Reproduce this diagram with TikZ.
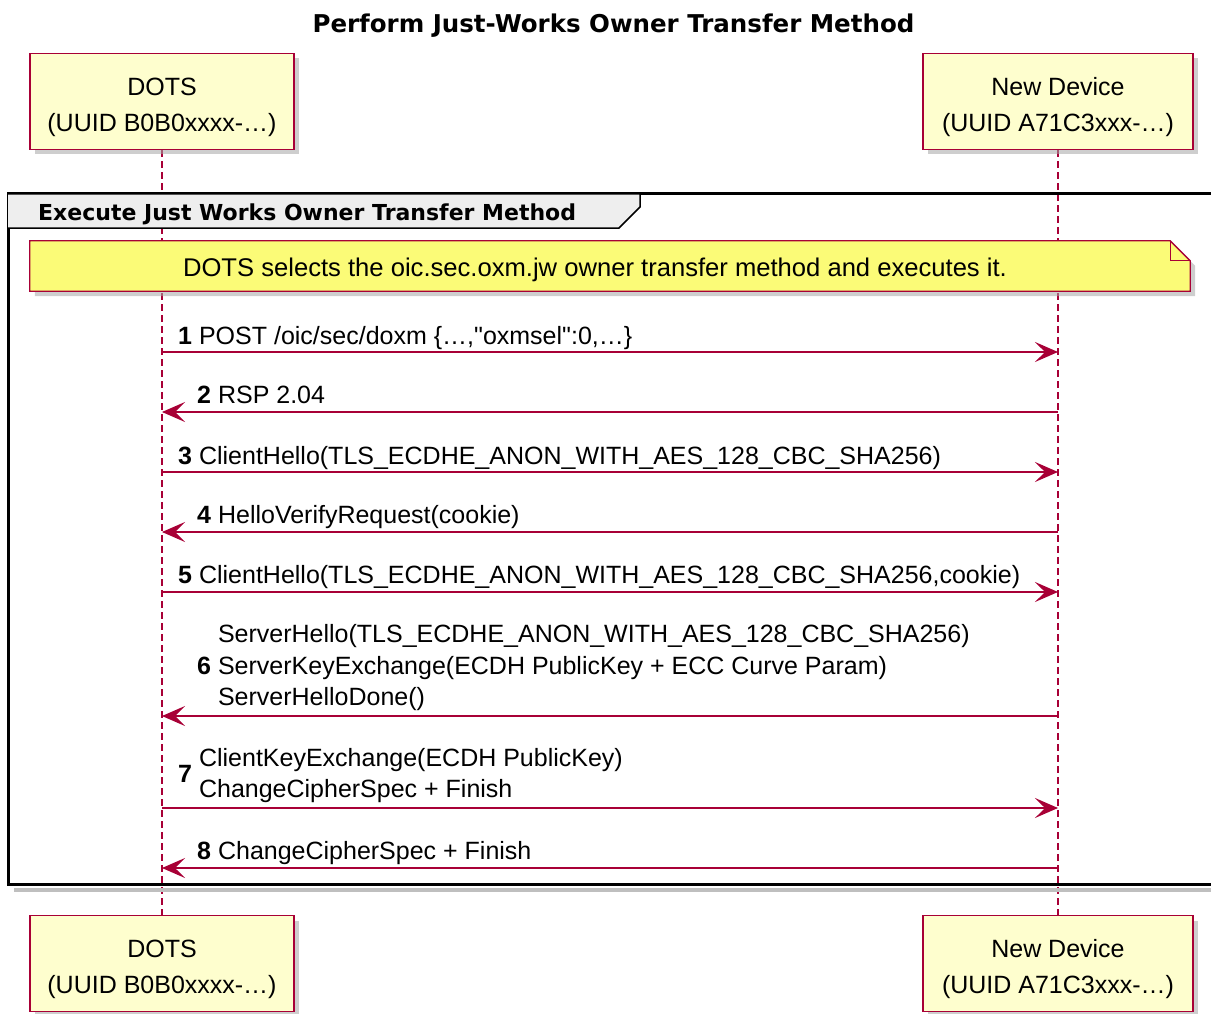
\documentclass[tikz,border=0pt]{standalone}
\usepackage{fontspec}
\setmainfont{Liberation Sans}[Ligatures=TeXOff]
\newfontfamily\djv{DejaVu Sans}
\usetikzlibrary{arrows.meta,backgrounds,shadows}
\definecolor{crim}{HTML}{A80036}
\definecolor{partfill}{HTML}{FEFECE}
\definecolor{notefill}{HTML}{FBFB77}
\definecolor{tabfill}{HTML}{EEEEEE}
\newcommand{\ptext}[2]{\raisebox{-5pt}[\height][\depth]{\begin{tabular}{@{}c@{}}#1\\#2\end{tabular}}}
\begin{document}
\begin{tikzpicture}[x=1pt,y=-1pt,
  part/.style={draw=crim, line width=1.5pt, fill=partfill, minimum height=96pt,
    inner sep=0pt, font=\fontsize{25}{36}\selectfont,
    drop shadow={shadow xshift=5pt, shadow yshift=-5pt, fill=black!35, opacity=.55}},
  lbl/.style={inner sep=0pt, font=\fontsize{25}{31.5}\selectfont, anchor=base west},
  msg/.style={crim, line width=1.3pt, -{Stealth[length=23pt,width=20pt,inset=10pt]}},
  lifeline/.style={crim, line width=1.3pt, dash pattern=on 7pt off 4pt},
  shade/.style={drop shadow={shadow xshift=5pt, shadow yshift=-5pt, fill=black!35, opacity=.55}},
]
\useasboundingbox (0,0) rectangle (1211,1014);

% title
\node[font=\djv\bfseries\fontsize{24.5}{28}\selectfont, inner sep=0pt, anchor=base] (title) at (613.5,33) {Perform Just-Works Owner Transfer Method};

% participants
\node[part, minimum width=264pt] (dotsT) at (162,101.5) {\ptext{DOTS}{(UUID B0B0xxxx-…)}};
\node[part, minimum width=270pt] (devT) at (1058,101.5) {\ptext{New Device}{(UUID A71C3xxx-…)}};
\node[part, minimum width=264pt] (dotsB) at (162,963.5) {\ptext{DOTS}{(UUID B0B0xxxx-…)}};
\node[part, minimum width=270pt] (devB) at (1058,963.5) {\ptext{New Device}{(UUID A71C3xxx-…)}};

% group label
\node[font=\djv\bfseries\fontsize{22}{26}\selectfont, inner sep=0pt, anchor=base west] (grp) at (38,220) {Execute Just Works Owner Transfer Method};

% note
\node[minimum width=1160pt, minimum height=50pt, inner sep=0pt, font=\fontsize{25.6}{30}\selectfont] (note) at (610,266) {\raisebox{-4pt}[\height][\depth]{DOTS selects the oic.sec.oxm.jw owner transfer method and executes it.}\kern30pt};

\begin{scope}[on background layer]
  \draw[lifeline] (dotsT.south) -- (dotsB.north);
  \draw[lifeline] (devT.south) -- (devB.north);
  % frame
  \draw[black!25, line width=4pt] (14,890) -- (1225,890);
  \draw[line width=3pt] (1225,194) -- (8,194) -- (8,884) -- (1225,884);
  \draw[fill=tabfill, line width=1.5pt] (8,194) -- (640,194) -- (640,207) -- (619,228) -- (8,228);
  % note shape
  \path[draw=crim, line width=1.3pt, fill=notefill, shade]
    (note.north west) -- ([xshift=-20pt]note.north east) -- ([yshift=-20pt]note.north east)
    -- (note.south east) -- (note.south west) -- cycle;
  \draw[crim, line width=1.3pt] ([xshift=-20pt]note.north east) |- ([yshift=-20pt]note.north east);
\end{scope}

% lifeline points
\foreach \i/\y in {1/352,2/412,3/472,4/532,5/592,6/716,7/808,8/868}{
  \coordinate (L\i) at (dotsT.south |- 0,\y);
  \coordinate (R\i) at (devT.south |- 0,\y);
}

% messages
\draw[msg] (L1) -- (R1);
\node[lbl] (m1) at (178,344) {\textbf{1}\ POST /oic/sec/doxm \{…,"oxmsel":0,…\}};
\draw[msg] (R2) -- (L2);
\node[lbl] (m2) at (197,403) {\textbf{2}\ RSP 2.04};
\draw[msg] (L3) -- (R3);
\node[lbl] (m3) at (178,464) {\textbf{3}\ ClientHello(TLS\_ECDHE\_ANON\_WITH\_AES\_128\_CBC\_SHA256)};
\draw[msg] (R4) -- (L4);
\node[lbl] (m4) at (197,523) {\textbf{4}\ HelloVerifyRequest(cookie)};
\draw[msg] (L5) -- (R5);
\node[lbl] (m5) at (178,583) {\textbf{5}\ ClientHello(TLS\_ECDHE\_ANON\_WITH\_AES\_128\_CBC\_SHA256,cookie)};
\draw[msg] (R6) -- (L6);
\node[lbl] (m6) at (197,674) {\textbf{6}\ \begin{tabular}[c]{@{}l@{}}ServerHello(TLS\_ECDHE\_ANON\_WITH\_AES\_128\_CBC\_SHA256)\\ServerKeyExchange(ECDH PublicKey + ECC Curve Param)\\ServerHelloDone()\end{tabular}};
\draw[msg] (L7) -- (R7);
\node[lbl] (m7) at (178,782) {\textbf{7}\ \begin{tabular}[c]{@{}l@{}}ClientKeyExchange(ECDH PublicKey)\\ChangeCipherSpec + Finish\end{tabular}};
\draw[msg] (R8) -- (L8);
\node[lbl] (m8) at (197,859) {\textbf{8}\ ChangeCipherSpec + Finish};
\end{tikzpicture}
\end{document}
